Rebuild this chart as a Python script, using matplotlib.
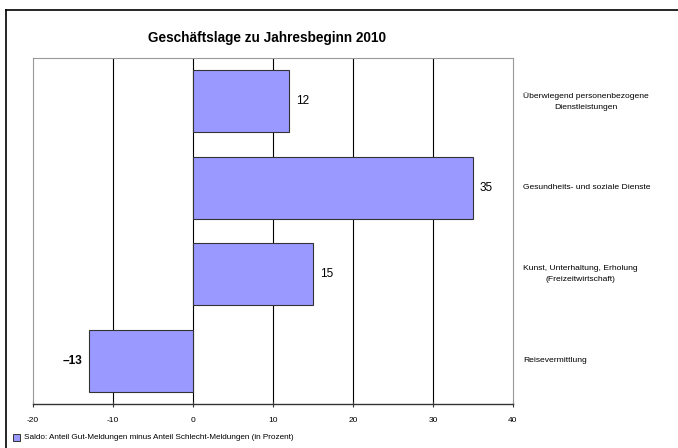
import matplotlib
matplotlib.use("Agg")
import matplotlib.pyplot as plt
from matplotlib.patches import Rectangle
from matplotlib.lines import Line2D

categories = [
    "Überwiegend personenbezogene\nDienstleistungen",
    "Gesundheits- und soziale Dienste",
    "Kunst, Unterhaltung, Erholung\n(Freizeitwirtschaft)",
    "Reisevermittlung",
]
values = [12, 35, 15, -13]
xticks = [-20, -10, 0, 10, 20, 30, 40]
title = "Geschäftslage zu Jahresbeginn 2010"
legend_label = "Saldo: Anteil Gut-Meldungen minus Anteil Schlecht-Meldungen (in Prozent)"

plt.rcParams['font.family'] = ['Liberation Sans', 'DejaVu Sans']

W, H = 678, 448
fig = plt.figure(figsize=(W / 100, H / 100), dpi=100)
ax = fig.add_axes([33 / W, 1 - 404 / H, 480 / W, 346 / H])

ypos = list(range(len(categories)))
ax.barh(ypos, values, height=0.72, color="#9999FF", edgecolor="#333333", linewidth=0.8, zorder=3)
ax.set_ylim(len(categories) - 0.5, -0.5)
ax.set_xlim(xticks[0], xticks[-1])
ax.set_xticks(xticks)
ax.set_xticklabels([str(t) for t in xticks], fontsize=6)
ax.set_yticks([])
for t in xticks[1:-1]:
    ax.axvline(t, color="black", linewidth=0.8, zorder=1)

for s in ["top", "left", "right"]:
    ax.spines[s].set_color("#999999")
    ax.spines[s].set_linewidth(0.8)
ax.spines["bottom"].set_color("#333333")
ax.spines["bottom"].set_linewidth(1.0)
ax.tick_params(axis="x", direction="inout", length=5, width=0.8, color="#333333", pad=7)

for y, v in zip(ypos, values):
    if v >= 0:
        ax.annotate(str(v), (v, y), xytext=(5, 0), textcoords="offset points",
                    ha="left", va="center", fontsize=8.5)
    else:
        ax.annotate("\u2013" + str(abs(v)), (v, y), xytext=(-5, 0), textcoords="offset points",
                    ha="right", va="center", fontsize=8.5, fontweight="bold")

for y, c in zip(ypos, categories):
    ax.text(1.0 + 10 / 480, y, c, transform=ax.get_yaxis_transform(), fontsize=6.1,
            ha="left", va="center", multialignment="center", linespacing=1.75)

fig.text(267 / W, 1 - 38 / H, title, ha="center", va="center", fontsize=9.8, fontweight="bold")

fig.patches.append(Rectangle((13 / W, 1 - 441 / H), 7 / W, 7 / H, transform=fig.transFigure,
                             facecolor="#9999FF", edgecolor="#333333", linewidth=0.7))
fig.text(24 / W, 1 - 437.5 / H, legend_label, ha="left", va="center", fontsize=5.9)

fig.lines.append(Line2D([6 / W, 6 / W], [0, 1 - 10 / H], transform=fig.transFigure,
                        color="black", linewidth=1.2))
fig.lines.append(Line2D([6 / W, 1], [1 - 10 / H, 1 - 10 / H], transform=fig.transFigure,
                        color="black", linewidth=1.2))

fig.savefig("out.png", dpi=100)
